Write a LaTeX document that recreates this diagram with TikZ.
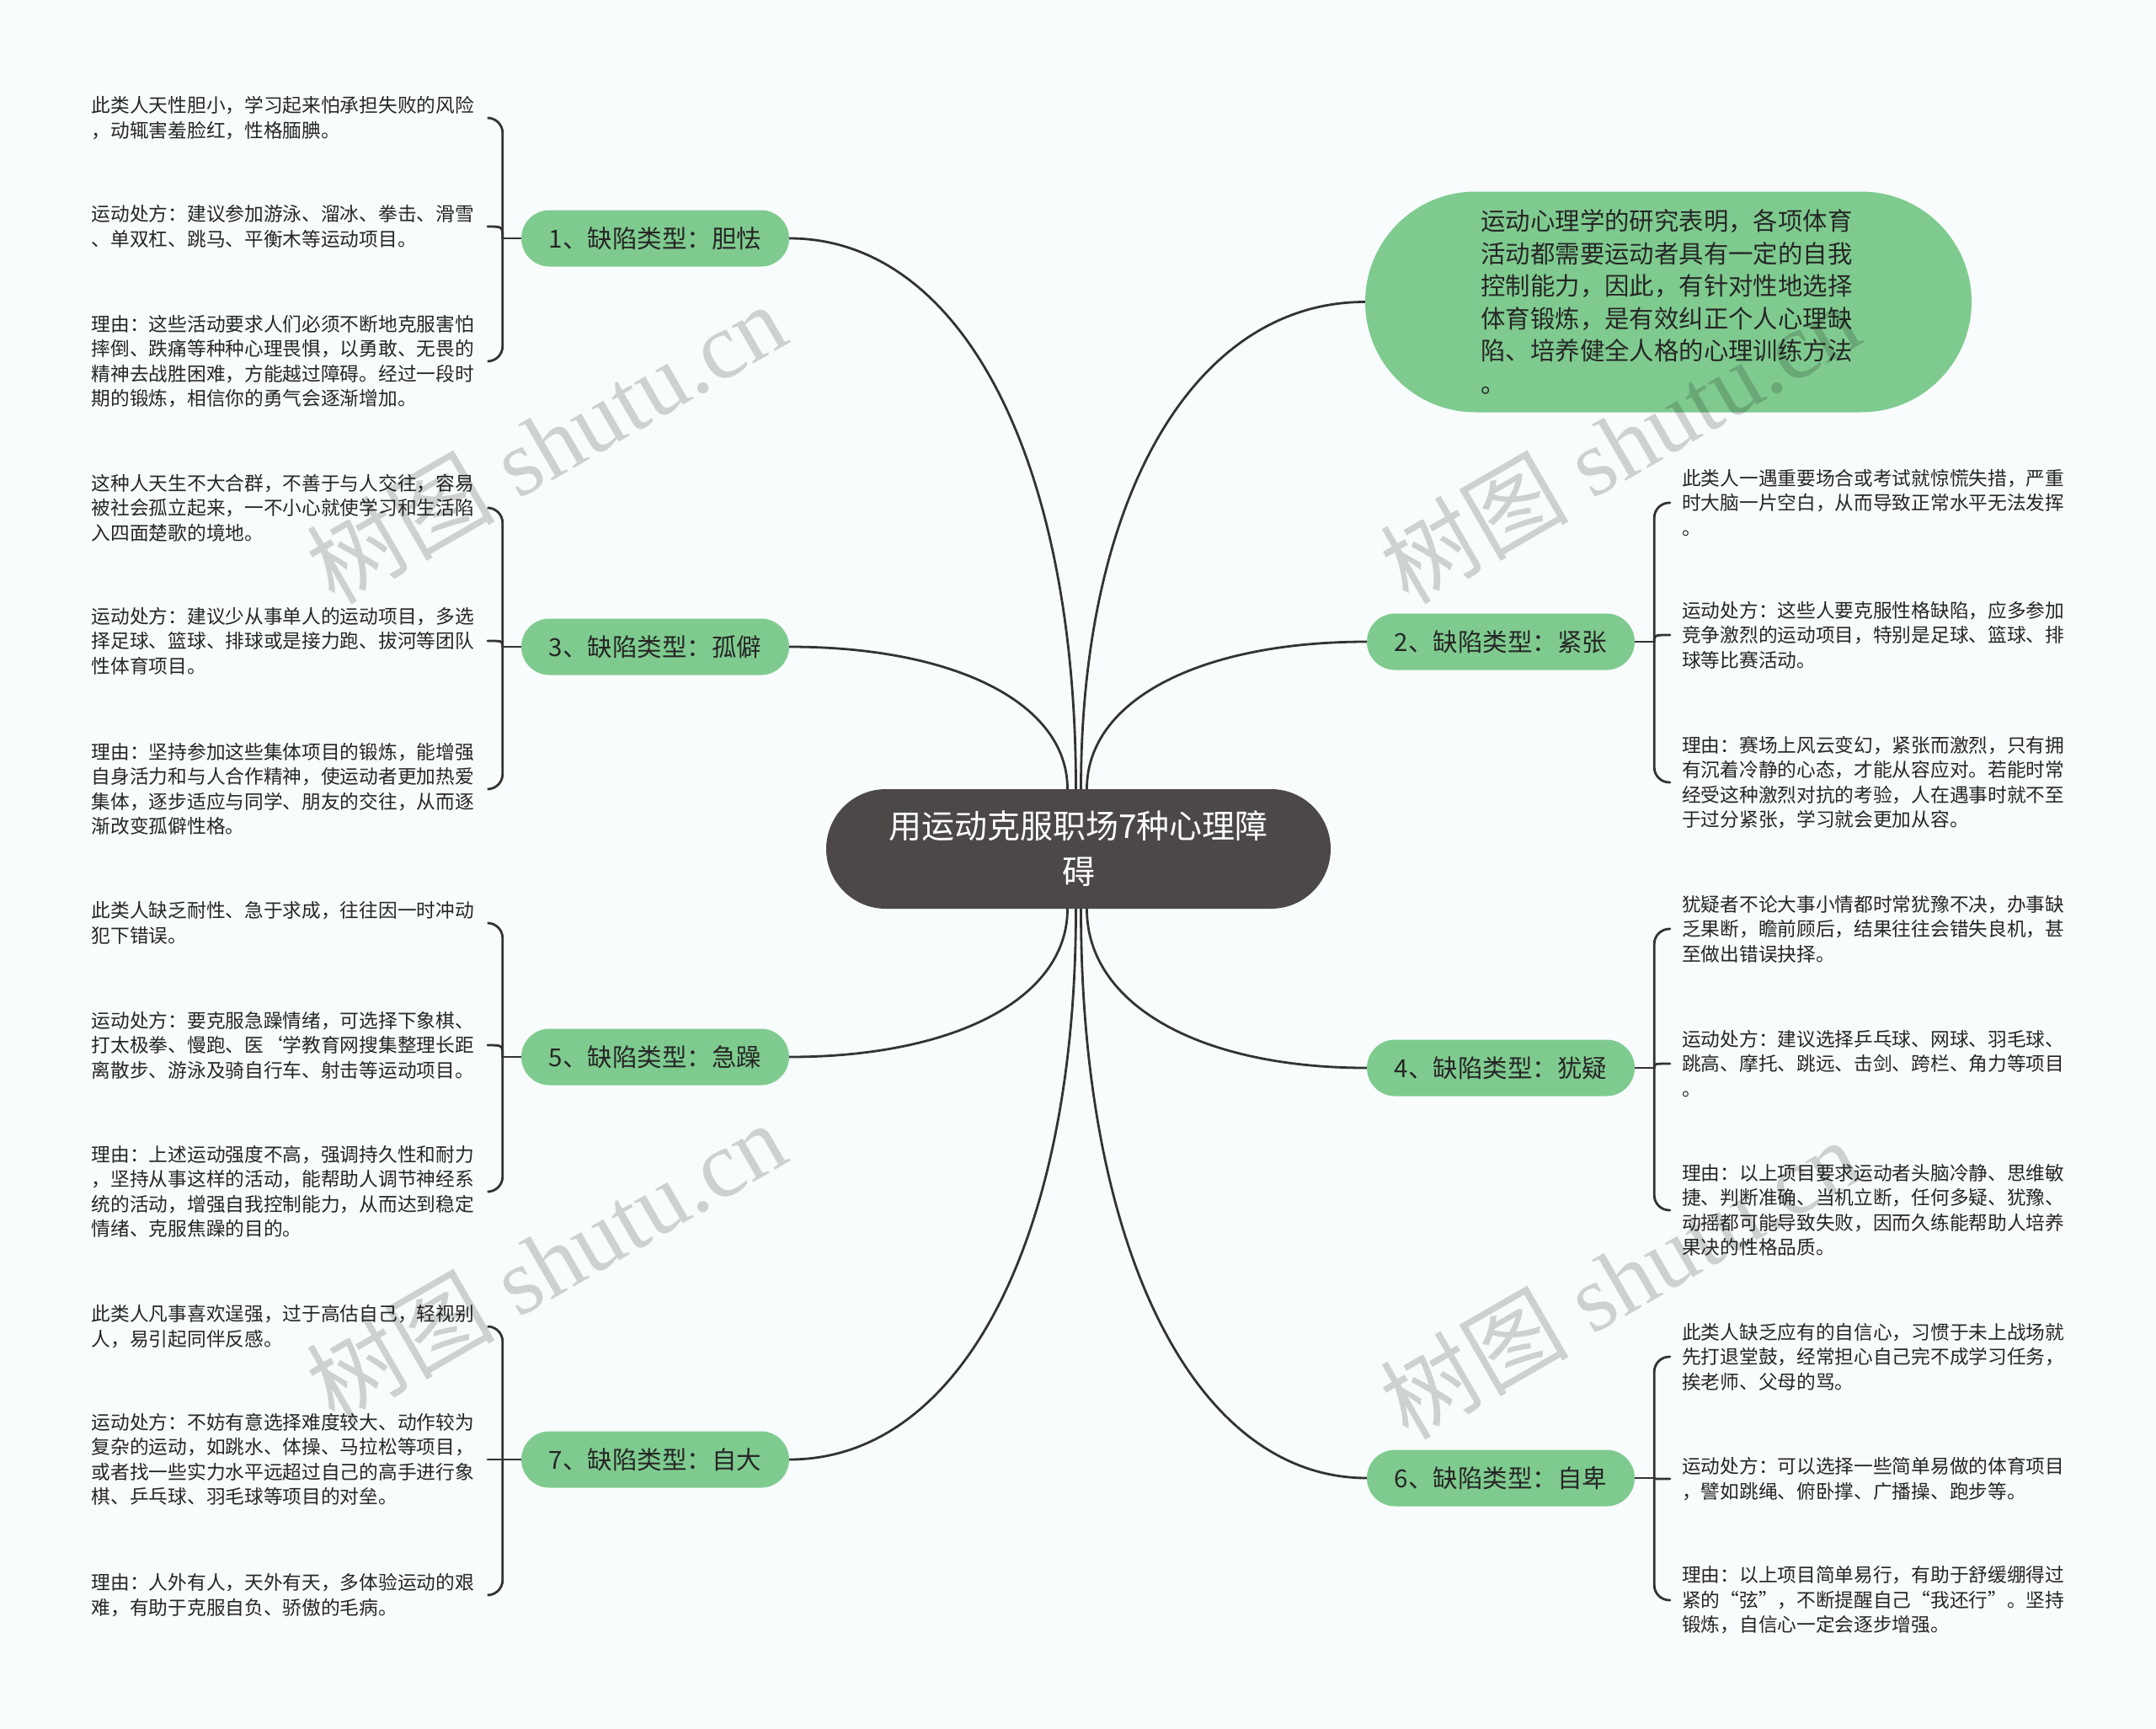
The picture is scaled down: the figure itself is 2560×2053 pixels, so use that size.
\documentclass[tikz,border=0pt]{standalone}
\usepackage{fontspec}
\setmainfont{Noto Sans CJK SC}
\newfontfamily\wmserif{Liberation Serif}
\usetikzlibrary{calc,backgrounds}
\definecolor{bgc}{RGB}{248,252,253}
\definecolor{grn}{RGB}{127,203,143}
\definecolor{darkc}{RGB}{77,72,72}
\definecolor{txt}{RGB}{38,38,38}
\definecolor{lnc}{RGB}{51,51,51}
\newcommand\mainconn[3]{%
  \coordinate (#3) at (#1 -| #2);
  \draw[conn] (#1) .. controls ($(#1)!0.6!(#3)$) and ($(#2)!0.6!(#3)$) .. (#2);}
\begin{document}
\begin{tikzpicture}[x=1pt,y=-1pt,
  conn/.style={draw=lnc, line width=2.8pt, line cap=round},
  centerbox/.style={fill=darkc, text=white, rounded corners=71pt, minimum width=599pt, minimum height=142pt, inner sep=0pt, align=center, font=\fontsize{39}{54}\selectfont},
  introbox/.style={fill=grn, text=txt, rounded corners=131pt, minimum width=720pt, minimum height=262pt, inner sep=0pt, text width=445pt, align=left, font=\fontsize{29.4}{38.6}\selectfont},
  branch/.style={fill=grn, text=txt, rounded corners=33.5pt, minimum width=318pt, minimum height=67pt, inner sep=0pt, font=\fontsize{29.5}{36}\selectfont},
  leafL/.style={anchor=east, text=txt, text width=456pt, align=left, inner xsep=14pt, inner ysep=0pt, font=\fontsize{22.7}{29.5}\selectfont},
  leafR/.style={leafL, anchor=west},
  wm/.style={text=black, text opacity=0.17, font=\fontsize{112}{112}\selectfont, inner sep=0pt, rotate=30}
]
\begin{scope}[on background layer]
\fill[bgc] (0,0) rectangle (2560,2053);
\end{scope}
\useasboundingbox (0,0) rectangle (2560,2053);

% central and first level
\node[centerbox] (ctr) at (1280.5,1008) {用运动克服职场7种心理障\\碍};
\node[introbox] (intro) at (1981,358.5) {运动心理学的研究表明，各项体育\\活动都需要运动者具有一定的自我\\控制能力，因此，有针对性地选择\\体育锻炼，是有效纠正个人心理缺\\陷、培养健全人格的心理训练方法\\。};
\node[branch] (b1) at (778,283) {1、缺陷类型：胆怯};
\node[branch] (b3) at (778,768) {3、缺陷类型：孤僻};
\node[branch] (b5) at (778,1255) {5、缺陷类型：急躁};
\node[branch] (b7) at (778,1733) {7、缺陷类型：自大};
\node[branch] (b2) at (1782,762) {2、缺陷类型：紧张};
\node[branch] (b4) at (1782,1268) {4、缺陷类型：犹疑};
\node[branch] (b6) at (1782,1755) {6、缺陷类型：自卑};

% leaves, group 1
\node[leafL] (l1a) at (579,140) {此类人天性胆小，学习起来怕承担失败的风险\\，动辄害羞脸红，性格腼腆。};
\node[leafL] (l1b) at (579,269) {运动处方：建议参加游泳、溜冰、拳击、滑雪\\、单双杠、跳马、平衡木等运动项目。};
\node[leafL] (l1c) at (579,429) {理由：这些活动要求人们必须不断地克服害怕\\摔倒、跌痛等种种心理畏惧，以勇敢、无畏的\\精神去战胜困难，方能越过障碍。经过一段时\\期的锻炼，相信你的勇气会逐渐增加。};
% group 3
\node[leafL] (l3a) at (579,603) {这种人天生不大合群，不善于与人交往，容易\\被社会孤立起来，一不小心就使学习和生活陷\\入四面楚歌的境地。};
\node[leafL] (l3b) at (579,761) {运动处方：建议少从事单人的运动项目，多选\\择足球、篮球、排球或是接力跑、拔河等团队\\性体育项目。};
\node[leafL] (l3c) at (579,937) {理由：坚持参加这些集体项目的锻炼，能增强\\自身活力和与人合作精神，使运动者更加热爱\\集体，逐步适应与同学、朋友的交往，从而逐\\渐改变孤僻性格。};
% group 5
\node[leafL] (l5a) at (579,1096) {此类人缺乏耐性、急于求成，往往因一时冲动\\犯下错误。};
\node[leafL] (l5b) at (579,1241) {运动处方：要克服急躁情绪，可选择下象棋、\\打太极拳、慢跑、医\char96 学教育网搜集整理长距\\离散步、游泳及骑自行车、射击等运动项目。};
\node[leafL] (l5c) at (579,1415) {理由：上述运动强度不高，强调持久性和耐力\\，坚持从事这样的活动，能帮助人调节神经系\\统的活动，增强自我控制能力，从而达到稳定\\情绪、克服焦躁的目的。};
% group 7
\node[leafL] (l7a) at (579,1575) {此类人凡事喜欢逞强，过于高估自己，轻视别\\人，易引起同伴反感。};
\node[leafL] (l7b) at (579,1733) {运动处方：不妨有意选择难度较大、动作较为\\复杂的运动，如跳水、体操、马拉松等项目，\\或者找一些实力水平远超过自己的高手进行象\\棋、乒乓球、羽毛球等项目的对垒。};
\node[leafL] (l7c) at (579,1894) {理由：人外有人，天外有天，多体验运动的艰\\难，有助于克服自负、骄傲的毛病。};
% group 2
\node[leafR] (l2a) at (1983,597) {此类人一遇重要场合或考试就惊慌失措，严重\\时大脑一片空白，从而导致正常水平无法发挥\\。};
\node[leafR] (l2b) at (1983,754) {运动处方：这些人要克服性格缺陷，应多参加\\竞争激烈的运动项目，特别是足球、篮球、排\\球等比赛活动。};
\node[leafR] (l2c) at (1983,929) {理由：赛场上风云变幻，紧张而激烈，只有拥\\有沉着冷静的心态，才能从容应对。若能时常\\经受这种激烈对抗的考验，人在遇事时就不至\\于过分紧张，学习就会更加从容。};
% group 4
\node[leafR] (l4a) at (1983,1103) {犹疑者不论大事小情都时常犹豫不决，办事缺\\乏果断，瞻前顾后，结果往往会错失良机，甚\\至做出错误抉择。};
\node[leafR] (l4b) at (1983,1263) {运动处方：建议选择乒乓球、网球、羽毛球、\\跳高、摩托、跳远、击剑、跨栏、角力等项目\\。};
\node[leafR] (l4c) at (1983,1437) {理由：以上项目要求运动者头脑冷静、思维敏\\捷、判断准确、当机立断，任何多疑、犹豫、\\动摇都可能导致失败，因而久练能帮助人培养\\果决的性格品质。};
% group 6
\node[leafR] (l6a) at (1983,1611) {此类人缺乏应有的自信心，习惯于未上战场就\\先打退堂鼓，经常担心自己完不成学习任务，\\挨老师、父母的骂。};
\node[leafR] (l6b) at (1983,1756) {运动处方：可以选择一些简单易做的体育项目\\，譬如跳绳、俯卧撑、广播操、跑步等。};
\node[leafR] (l6c) at (1983,1900) {理由：以上项目简单易行，有助于舒缓绷得过\\紧的“弦”，不断提醒自己“我还行”。坚持\\锻炼，自信心一定会逐步增强。};

% connectors
\begin{scope}[on background layer]
\coordinate (t3) at ($(ctr.north)+(-13,0)$);
\coordinate (t1) at ($(ctr.north)+(-3,0)$);
\coordinate (t0) at ($(ctr.north)+(3,0)$);
\coordinate (t2) at ($(ctr.north)+(10,0)$);
\coordinate (s5) at ($(ctr.south)+(-13,0)$);
\coordinate (s7) at ($(ctr.south)+(-3,0)$);
\coordinate (s6) at ($(ctr.south)+(3,0)$);
\coordinate (s4) at ($(ctr.south)+(10,0)$);
\mainconn{b1.east}{t1}{k1}
\mainconn{b3.east}{t3}{k3}
\mainconn{intro.west}{t0}{k0}
\mainconn{b2.west}{t2}{k2}
\mainconn{b5.east}{s5}{k5}
\mainconn{b7.east}{s7}{k7}
\mainconn{b4.west}{s4}{k4}
\mainconn{b6.west}{s6}{k6}

\foreach \g in {1,3,5,7}{
  \coordinate (j\g) at ($(b\g.west)+(-22,0)$);
  \draw[conn] (b\g.west) -- (j\g);
  \draw[conn, rounded corners=18pt] (j\g) |- (l\g a.east);
  \draw[conn] (j\g) .. controls (j\g |- l\g b.east) .. (l\g b.east);
  \draw[conn, rounded corners=18pt] (j\g) |- (l\g c.east);
}
\foreach \g in {2,4,6}{
  \coordinate (j\g) at ($(b\g.east)+(23,0)$);
  \draw[conn] (b\g.east) -- (j\g);
  \draw[conn, rounded corners=18pt] (j\g) |- (l\g a.west);
  \draw[conn] (j\g) .. controls (j\g |- l\g b.west) .. (l\g b.west);
  \draw[conn, rounded corners=18pt] (j\g) |- (l\g c.west);
}
\end{scope}

% watermarks
\node[wm] (wm1) at (648,526) {树图\hspace{28pt}{\wmserif shutu.cn}};
\node[wm] (wm2) at (648,1498) {树图\hspace{28pt}{\wmserif shutu.cn}};
\node[wm] (wm3) at (1923,526) {树图\hspace{28pt}{\wmserif shutu.cn}};
\node[wm] (wm4) at (1923,1518) {树图\hspace{28pt}{\wmserif shutu.cn}};
\end{tikzpicture}
\end{document}
